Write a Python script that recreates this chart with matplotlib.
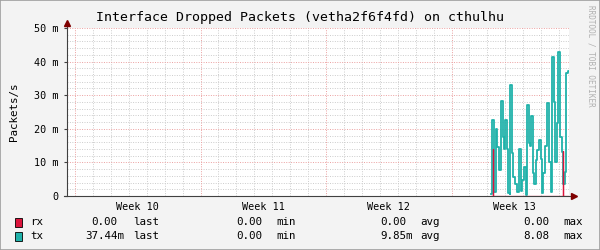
import numpy as np
import matplotlib.pyplot as plt
from matplotlib.patches import Rectangle

# time in hours since the start of week 10, rates in milli-packets/s
tx_hours = [556.2, 558.2, 560.8, 563.1, 565.3, 567.1, 569.8, 572.5, 574.2, 575.2,
            577.8, 578.6, 580.2, 581.6, 582.2, 584.9, 586.7, 588.5, 591.2, 593.9,
            596.6, 598.3, 601.0, 603.3, 605.0, 607.7, 609.0, 610.4, 613.0, 614.8,
            616.7, 618.8, 621.1, 623.7, 625.5, 626.8, 629.1, 631.8, 634.5, 636.7,
            638.0, 640.7, 642.9, 645.1, 646.5, 649.2, 651.4, 653.6, 655.5, 657.2,
            659.5, 661.2]
tx_vals = [0.5, 22.6, 1.3, 19.8, 14.7, 7.7, 28.3, 17.7, 14.1, 22.6,
           16.0, 14.0, 1.0, 0.5, 33.0, 12.8, 5.7, 3.5, 1.3, 13.9,
           1.5, 4.8, 8.7, 0.3, 27.0, 15.7, 15.0, 23.8, 6.7, 3.6,
           10.7, 13.7, 16.7, 11.0, 1.0, 6.8, 14.9, 27.8, 10.2, 1.3,
           41.5, 28.0, 10.0, 21.7, 42.9, 17.7, 13.2, 3.6, 7.0, 36.5,
           37.3, 37.3]

rx_hours = [556.2, 559.0, 560.0, 652.7, 653.7, 661.2]
rx_vals = [0.0, 14.0, 0.0, 13.5, 0.0, 0.0]

week_names = ['Week 10', 'Week 11', 'Week 12', 'Week 13']
week_starts = [0, 168, 336, 504]
ytick_vals = [0, 10, 20, 30, 40, 50]
ytick_labels = ['0', '10 m', '20 m', '30 m', '40 m', '50 m']

legend_rows = [
    ('rx', '#DC143C', ['0.00', '0.00', '0.00', '0.00']),
    ('tx', '#20B2AA', ['37.44m', '0.00', '9.85m', '8.08']),
]
legend_cols = ['last', 'min', 'avg', 'max']

mono = 'DejaVu Sans Mono'
W, H = 600, 250

fig = plt.figure(figsize=(6, 2.5), dpi=100, facecolor='#F3F3F3')
ax = fig.add_axes([67 / W, 1 - 196 / H, (569 - 67) / W, 168 / H])
ax.set_facecolor('white')
ax.set_xlim(-10.7, 661.2)
ax.set_ylim(0, 50)

# grid
for d in range(0, 28):
    h = d * 24
    if h % 168 == 0:
        continue
    ax.axvline(h, color='#CCCCCC', lw=0.7, ls=(0, (1, 1.5)), zorder=0)
for v in np.arange(2, 50, 2):
    if v % 10 == 0:
        continue
    ax.axhline(v, color='#CCCCCC', lw=0.7, ls=(0, (1, 1.5)), zorder=0)
for h in week_starts:
    ax.axvline(h, color='#EBA0A0', lw=0.7, ls=(0, (1, 1.5)), zorder=0.5)
for v in [10, 20, 30, 40, 50]:
    ax.axhline(v, color='#EBA0A0', lw=0.7, ls=(0, (1, 1.5)), zorder=0.5)

ax.step(tx_hours, tx_vals, where='post', color='#20B2AA', lw=1.3, zorder=3)
ax.step(rx_hours, rx_vals, where='post', color='#DC143C', lw=0.9, zorder=4)

for s in ax.spines.values():
    s.set_visible(False)

# axes with arrows
ax.plot([-0.006, 1.006], [0, 0], transform=ax.transAxes, color='#404040',
        lw=0.8, clip_on=False, zorder=2)
ax.plot([0, 0], [0, 1.018], transform=ax.transAxes, color='#404040',
        lw=0.8, clip_on=False, zorder=2)
ax.plot([1.010], [0], transform=ax.transAxes, marker='>', ms=4.5,
        color='#7F0000', clip_on=False, zorder=5)
ax.plot([0], [1.03], transform=ax.transAxes, marker='^', ms=4.5,
        color='#7F0000', clip_on=False, zorder=5)

ax.set_xticks([h + 84 for h in week_starts])
ax.set_xticklabels(week_names, family=mono, fontsize=7.3)
ax.set_yticks(ytick_vals)
ax.set_yticklabels(ytick_labels, family=mono, fontsize=7.3)
ax.tick_params(axis='x', length=0, pad=4)
ax.tick_params(axis='y', length=2, pad=4, color='#404040')
ax.set_ylabel('Packets/s', family=mono, fontsize=7.8, labelpad=11)

fig.text(300 / W, 1 - 18 / H, 'Interface Dropped Packets (vetha2f6f4fd) on cthulhu',
         family=mono, fontsize=9.5, ha='center', va='center')
fig.text(591 / W, 1 - 5 / H, 'RRDTOOL / TOBI OETIKER', family=mono, fontsize=5.5,
         color='#B0B0B0', rotation=270, ha='center', va='top')

# legend
row_y = [222, 236]
# right edge of the value field incl. the unit column
val_right = [124, 268.7, 412.6, 555.7]
lab_left = [133, 276, 420, 563]
for (name, color, vals), y in zip(legend_rows, row_y):
    fy = 1 - y / H
    fig.patches.append(Rectangle((15 / W, 1 - (y + 5) / H), 7 / W, 9 / H,
                                 transform=fig.transFigure, facecolor=color,
                                 edgecolor='black', lw=0.6))
    fig.text(30 / W, fy, name, family=mono, fontsize=7.8, ha='left', va='center')
    for v, xr, lab, xl in zip(vals, val_right, legend_cols, lab_left):
        # values without a unit suffix leave one blank column before the label
        shift = 0 if v.endswith('m') else 6.7
        fig.text((xr - shift) / W, fy, v, family=mono, fontsize=7.8,
                 ha='right', va='center')
        fig.text(xl / W, fy, lab, family=mono, fontsize=7.8, ha='left', va='center')

# frame shading
fig.patches.append(Rectangle((0, 0), 1, 1, transform=fig.transFigure, fill=False,
                             edgecolor='#9E9E9E', lw=1.2))

fig.savefig('out.png', dpi=100, facecolor=fig.get_facecolor())
